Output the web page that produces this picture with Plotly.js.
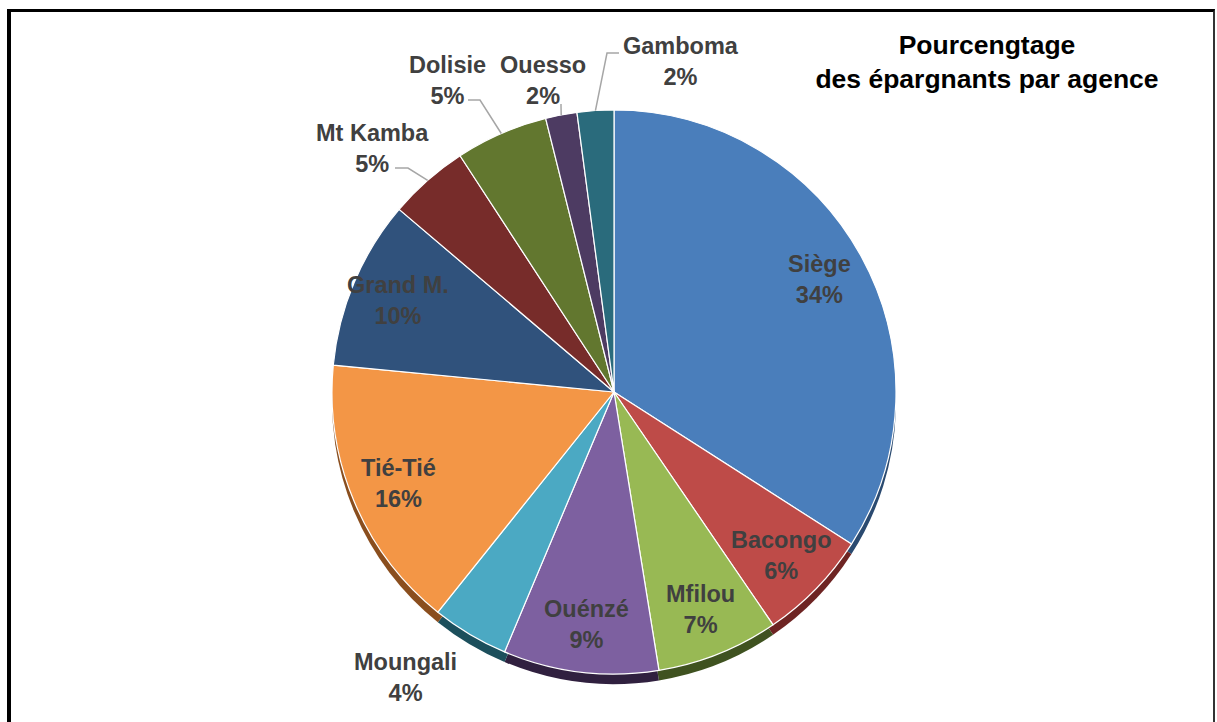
<!DOCTYPE html>
<html>
<head>
<meta charset="utf-8">
<script src="https://cdn.plot.ly/plotly-3.0.1.min.js"></script>
<style>
html,body{margin:0;padding:0;background:#fff;}
#frame{position:absolute;left:7px;top:9px;width:1202px;height:760px;border-left:4px solid #000;border-top:3px solid #000;border-right:2px solid #333;}
#chart{position:absolute;left:0;top:0;width:1217px;height:722px;}
</style>
</head>
<body>
<div id="frame"></div>
<div id="chart"></div>
<script>
// ---- data ----
const agencies = ['Siège','Bacongo','Mfilou','Ouénzé','Moungali','Tié-Tié','Grand M.','Mt Kamba','Dolisie','Ouesso','Gamboma'];
const shares = [34.1, 6.4, 7.0, 8.9, 4.4, 15.8, 9.7, 4.6, 5.3, 1.8, 2.1];
const titleText = 'Pourcengtage<br>des épargnants par agence';

// ---- styles ----
const sliceColors = ['#4A7EBB','#BE4B48','#98B954','#7D60A0','#4BA9C3','#F39646','#30527C','#772C2A','#62772F','#4D3B62','#2A6B7C'];
const edgeColors = ['#2A4A70','#6E2423','#3F5220','#30203F','#1C4F5C','#8A4E1E','#1A2E48','#451615','#35431A','#2A1F38','#14404C'];
const FONT = 'Liberation Sans, Arial, sans-serif';
const labelColor = '#404040';
const labelSize = 23.5;
// outside label placement (pixels): text centre, and elbow of the leader line
const outsideLabels = {
  'Moungali': {tx: 405, ty: 677, line: null},
  'Mt Kamba': {tx: 372, ty: 148, line: [[395, 168], [408, 168]]},
  'Dolisie':  {tx: 447, ty: 80,  line: [[468, 100], [480, 100]]},
  'Ouesso':   {tx: 543, ty: 80,  line: [[561, 104], [561, 106]]},
  'Gamboma':  {tx: 681, ty: 62,  line: [[619, 53],  [607, 53]]}
};
const insideFrac = 0.83;

const W = 1217, H = 722;
const cx = 614, cy = 392, r = 282, depth = 10;
const px = x => x / W, py = y => 1 - y / H;
const dom = (x, y) => ({x: [px(x - r), px(x + r)], y: [py(y + r), py(y - r)]});

const edge = {
  type: 'pie', values: shares, labels: agencies, sort: false, direction: 'clockwise', rotation: 0,
  marker: {colors: edgeColors, line: {color: 'rgba(0,0,0,0)', width: 0}},
  textinfo: 'none', hoverinfo: 'skip', showlegend: false,
  domain: dom(cx, cy + depth)
};
const main = {
  type: 'pie', values: shares, labels: agencies, sort: false, direction: 'clockwise', rotation: 0,
  marker: {colors: sliceColors, line: {color: '#ffffff', width: 1.2}},
  textinfo: 'none', showlegend: false,
  domain: dom(cx, cy)
};

// labels derived from the data (mid-angle of each slice)
const total = shares.reduce((a, b) => a + b, 0);
const annotations = [];
const shapes = [];
let cum = 0;
agencies.forEach((name, i) => {
  const mid = (cum + shares[i] / 2) / total * 2 * Math.PI;
  cum += shares[i];
  const pct = Math.round(shares[i] / total * 100) + '%';
  const text = name + '<br>' + pct;
  const font = {family: FONT, size: labelSize, color: labelColor, weight: 'bold'};
  const o = outsideLabels[name];
  if (o) {
    annotations.push({x: px(o.tx), y: py(o.ty), xref: 'paper', yref: 'paper', text: text, showarrow: false,
      xanchor: 'center', yanchor: 'middle', align: 'center', font: font});
    if (o.line) {
      const ex = cx + r * Math.sin(mid), ey = cy - r * Math.cos(mid);
      const p = [...o.line, [ex, ey]];
      shapes.push({type: 'path', xref: 'paper', yref: 'paper',
        path: p.map((q, k) => (k ? 'L' : 'M') + px(q[0]).toFixed(5) + ',' + py(q[1]).toFixed(5)).join(' '),
        line: {color: '#A6A6A6', width: 1.5}});
    }
  } else {
    const lx = cx + insideFrac * r * Math.sin(mid), ly = cy - insideFrac * r * Math.cos(mid);
    annotations.push({x: px(lx), y: py(ly), xref: 'paper', yref: 'paper', text: text, showarrow: false,
      xanchor: 'center', yanchor: 'middle', align: 'center', font: font});
  }
});

const layout = {
  width: W, height: H,
  margin: {l: 0, r: 0, t: 0, b: 0},
  paper_bgcolor: 'rgba(0,0,0,0)', plot_bgcolor: 'rgba(0,0,0,0)',
  title: {
    text: titleText, xref: 'container', yref: 'container', x: 987 / W, xanchor: 'center', y: py(54), yanchor: 'top',
    font: {family: FONT, size: 26.5, color: '#000000', weight: 'bold'}
  },
  annotations: annotations,
  shapes: shapes,
  showlegend: false
};
Plotly.newPlot('chart', [edge, main], layout, {displayModeBar: false, staticPlot: true});
</script>
</body>
</html>
